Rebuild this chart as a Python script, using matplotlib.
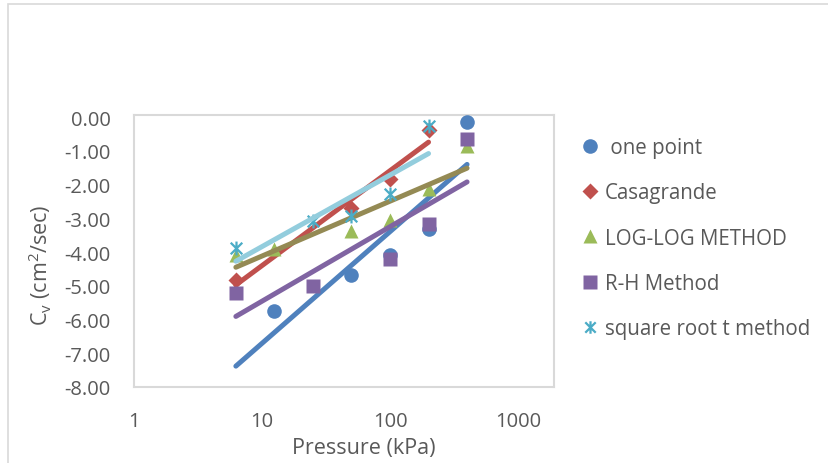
import numpy as np
import matplotlib
matplotlib.use("Agg")
import matplotlib.pyplot as plt
from matplotlib.path import Path
from matplotlib.lines import Line2D
from matplotlib.patches import Rectangle

plt.rcParams['font.family'] = ['Open Sans', 'DejaVu Sans']
plt.rcParams['mathtext.fontset'] = 'custom'
plt.rcParams['mathtext.rm'] = 'Open Sans'

nan = np.nan
pressure = [6.25, 12.5, 25, 50, 100, 200, 400]
one_point = [nan, -5.76, nan, -4.67, -4.08, -3.33, -0.14]
casagrande = [-4.82, nan, nan, -2.70, -1.85, -0.38, nan]
log_log = [-4.10, -3.90, nan, -3.38, -3.04, -2.14, -0.85]
r_h = [-5.20, nan, -5.02, nan, -4.20, -3.18, -0.65]
sqrt_t = [-3.88, nan, -3.08, -2.94, -2.27, -0.26, nan]

labels = [" one point", "Casagrande", "LOG-LOG METHOD", "R-H Method", "square root t method"]
x_ticks = [1, 10, 100, 1000]
y_ticks = [0, -1, -2, -3, -4, -5, -6, -7, -8]

star = Path([(-1, -1), (1, 1), (-1, 1), (1, -1), (0, -1.2), (0, 1.2)],
            [Path.MOVETO, Path.LINETO, Path.MOVETO, Path.LINETO, Path.MOVETO, Path.LINETO])

styles = [
    dict(marker='o', ms=10.5, color='#4F81BD', trend='#4F81BD'),
    dict(marker='D', ms=8, color='#C0504D', trend='#C0504D'),
    dict(marker='^', ms=10.5, color='#9BBB59', trend='#948A54'),
    dict(marker='s', ms=10, color='#8064A2', trend='#8064A2'),
    dict(marker=star, ms=10, color='#4BACC6', trend='#93CDDD'),
]

TXT = '#595959'


def trend(xs, ys):
    xs = np.asarray(xs, float)
    ys = np.asarray(ys, float)
    m = ~np.isnan(ys)
    slope, icpt = np.polyfit(np.log10(xs[m]), ys[m], 1)
    xx = np.array([xs[0], xs[m][-1]])
    return xx, slope * np.log10(xx) + icpt


fig = plt.figure(figsize=(8.29, 4.64), dpi=100)
fig.patches.append(Rectangle((8 / 829, -0.1), 1.2, 1 - 5 / 464 + 0.1, transform=fig.transFigure,
                             fill=False, edgecolor='#d9d9d9', lw=1.2))
ax = fig.add_axes([134 / 829, 1 - 388 / 464, 420 / 829, 272 / 464])

handles = []
for i, (ys, st) in enumerate(zip([one_point, casagrande, log_log, r_h, sqrt_t], styles)):
    z = 3 + 2 * i
    if st['marker'] is star:
        ax.plot(pressure, ys, ls='none', marker=star, ms=st['ms'], mec=st['color'],
                mfc='none', mew=1.6, zorder=z)
        h = Line2D([], [], ls='none', marker=star, ms=st['ms'] - 1, mec=st['color'], mew=1.6)
    else:
        ax.plot(pressure, ys, ls='none', marker=st['marker'], ms=st['ms'], color=st['color'],
                mec='none', zorder=z)
        h = Line2D([], [], ls='none', marker=st['marker'], ms=st['ms'], color=st['color'], mec='none')
    tx, ty = trend(pressure, ys)
    ax.plot(tx, ty, color=st['trend'], lw=3.6, solid_capstyle='round', zorder=z + 1)
    handles.append(h)

ax.set_xscale('log')
ax.set_xlim(1, 10 ** (420 / 128))
ax.set_ylim(-8, 0.06)
ax.set_xticks(x_ticks)
ax.set_xticklabels([str(t) for t in x_ticks])
ax.xaxis.set_minor_locator(plt.NullLocator())
ax.set_yticks(y_ticks)
ax.set_yticklabels([f"{t:.2f}" for t in y_ticks])
ax.tick_params(length=0, labelsize=14.5, colors=TXT)
ax.tick_params(axis='x', pad=17)
ax.tick_params(axis='y', pad=17)
for s in ax.spines.values():
    s.set_color('#d9d9d9')
    s.set_linewidth(1.5)

ax.set_xlabel("Pressure (kPa)", fontsize=15.5, color=TXT)
ax.xaxis.set_label_coords((364 - 134) / 420, (388 - 449) / 272)
ax.xaxis.label.set_va('center')
ax.set_ylabel(r"C$_{\mathregular{v}}$ (cm$^{\mathregular{2}}$/sec)", fontsize=15.5, color=TXT)
ax.yaxis.set_label_coords((40 - 134) / 420, (388 - 265) / 272)
ax.yaxis.label.set_va('center')

fig.legend(handles, labels, loc='upper left', bbox_to_anchor=(582 / 829, 1 - 138 / 464),
           frameon=False, fontsize=14.8, labelcolor=TXT, handlelength=0.8, handletextpad=0.3,
           labelspacing=1.18, borderpad=0, borderaxespad=0)

fig.savefig("out.png", dpi=100)
